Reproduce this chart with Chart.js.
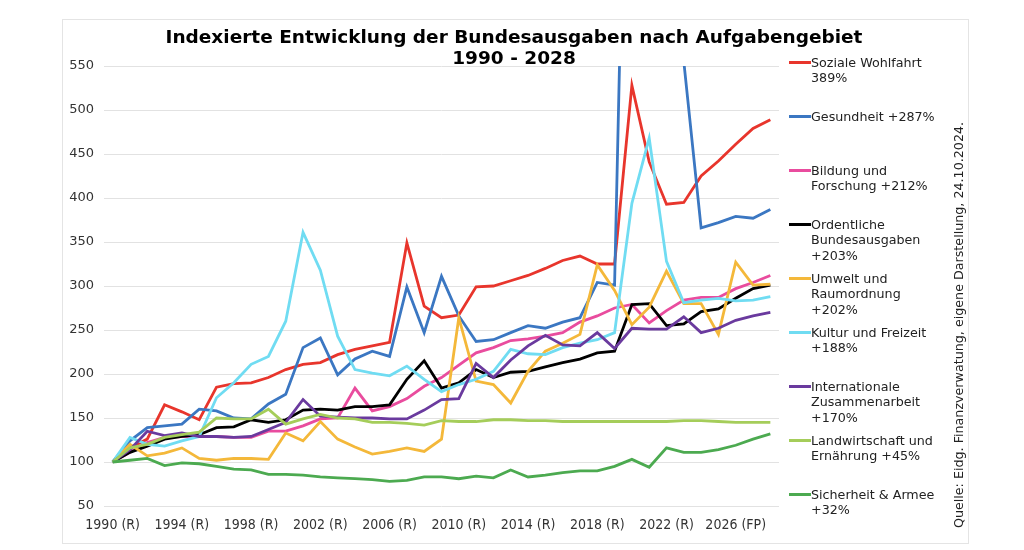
<!DOCTYPE html>
<html><head><meta charset="utf-8">
<script src="https://cdn.jsdelivr.net/npm/chart.js@4"></script>
<style>
html,body{margin:0;padding:0;background:#fff;}
body{width:1024px;height:550px;position:relative;overflow:hidden;font-family:'DejaVu Sans',Verdana,sans-serif;}
#frame{position:absolute;left:62px;top:19px;width:905px;height:523px;border:1px solid #e4e4e4;}
#title{position:absolute;left:0;width:1028px;top:26px;text-align:center;font-weight:bold;font-size:18.5px;line-height:21px;color:#000;}
.leg{position:absolute;left:789px;font-size:12.7px;line-height:15.5px;color:#222;white-space:nowrap;}
.sw{position:absolute;left:0;width:22px;height:3px;top:6.3px;}
.lt{margin-left:22px;}
#src{position:absolute;left:958px;top:325px;transform:translate(-50%,-50%) rotate(-90deg);font-size:12.7px;white-space:nowrap;color:#222;line-height:15px;}
#c{position:absolute;left:0;top:0;}
</style></head>
<body>
<div id="frame"></div>
<canvas id="c" width="1024" height="550"></canvas>
<div id="title">Indexierte Entwicklung der Bundesausgaben nach Aufgabengebiet<br>1990 - 2028</div>
<div id="legend"></div>
<div id="src">Quelle: Eidg. Finanzverwatung, eigene Darstellung, 24.10.2024.</div>
<script>
const years = [];
for (let y = 1990; y <= 2028; y++) years.push(y);
const categories = years.map(y => y + (y <= 2023 ? ' (R)' : (y === 2024 ? ' (V)' : ' (FP)')));

const sozialeWohlfahrt = [100,116,126,165,157,148,185,189,190,196, 205,211,213,222,228,232,236,349,277,264, 267,299,300,306,312,320,329,334,325,325, 528,441,393,395,425,442,461,479,489];
const gesundheit = [100,124,139,141,143,160,158,150,149,166, 177,230,241,199,217,226,220,299,247,311, 266,237,239,247,255,252,259,264,304,301, 1180,1400,1100,555,366,372,379,377,387];
const bildung = [100,111,122,128,129,129,129,128,128,135, 135,141,149,150,184,158,163,172,186,196, 210,224,230,238,240,243,247,259,266,275, 279,258,272,284,287,287,297,304,312];
const ordentliche = [100,111,118,126,129,131,139,140,148,145, 148,159,160,159,163,163,165,194,215,184, 190,205,196,202,203,208,213,217,224,226, 279,280,255,257,271,274,286,297,301];
const umwelt = [100,120,107,110,116,104,102,104,104,103, 133,124,146,126,117,109,112,116,112,126, 264,192,188,167,203,226,235,245,324,295, 256,276,317,280,280,245,327,301,302];
const kultur = [100,128,120,118,124,129,173,190,211,220, 260,361,318,243,205,201,198,209,194,180, 188,194,203,228,223,222,230,235,239,247, 394,468,328,281,284,286,283,284,288];
const international = [100,114,135,130,133,129,129,128,129,137, 145,171,152,151,150,150,149,149,159,171, 172,212,196,216,232,244,233,232,247,229, 252,251,251,265,247,252,261,266,270];
const landwirtschaft = [100,116,120,128,131,134,150,149,149,160, 143,149,154,150,149,145,145,144,142,147, 146,146,148,148,147,147,146,146,146,146, 146,146,146,147,147,146,145,145,145];
const sicherheit = [100,102,104,96,99,98,95,92,91,86, 86,85,83,82,81,80,78,79,83,83, 81,84,82,91,83,85,88,90,90,95, 103,94,116,111,111,114,119,126,132];

const yTicks = [50,100,150,200,250,300,350,400,450,500,550];

const series = [
  {name:['Soziale Wohlfahrt','389%'], data:sozialeWohlfahrt, color:'#e8352c'},
  {name:['Gesundheit +287%'], data:gesundheit, color:'#3b77c2'},
  {name:['Bildung und','Forschung +212%'], data:bildung, color:'#e94c9e'},
  {name:['Ordentliche','Bundesausgaben','+203%'], data:ordentliche, color:'#000000'},
  {name:['Umwelt und','Raumordnung','+202%'], data:umwelt, color:'#f4b83a'},
  {name:['Kultur und Freizeit','+188%'], data:kultur, color:'#70dcf2'},
  {name:['Internationale','Zusammenarbeit','+170%'], data:international, color:'#6a3a9e'},
  {name:['Landwirtschaft und','Ernährung +45%'], data:landwirtschaft, color:'#a5cd5a'},
  {name:['Sicherheit & Armee','+32%'], data:sicherheit, color:'#4caa50'}
];

// HTML legend
const leg = document.getElementById('legend');
series.forEach((s, i) => {
  const d = document.createElement('div');
  d.className = 'leg';
  d.style.top = (62.7 + 54 * i - 7.75) + 'px';
  const sw = document.createElement('div');
  sw.className = 'sw'; sw.style.background = s.color;
  const t = document.createElement('div');
  t.className = 'lt'; t.innerHTML = s.name.map(x => x.replace('&','&amp;')).join('<br>');
  d.appendChild(sw); d.appendChild(t); leg.appendChild(d);
});

Chart.defaults.font.family = "'DejaVu Sans', Verdana, sans-serif";
new Chart(document.getElementById('c'), {
  type: 'line',
  data: {
    labels: categories,
    datasets: series.map((s, i) => ({
      label: s.name.join(' '),
      data: s.data,
      borderColor: s.color,
      backgroundColor: s.color,
      borderWidth: 2.8,
      pointRadius: 0,
      tension: 0,
      fill: false,
      order: -i
    }))
  },
  options: {
    responsive: false,
    animation: false,
    devicePixelRatio: 1,
    layout: {padding: {left: 62, right: 245, top: 66, bottom: 14}},
    plugins: {legend: {display: false}, title: {display: false}, tooltip: {enabled: false}},
    scales: {
      x: {
        offset: true,
        grid: {display: false},
        border: {display: false},
        ticks: {
          autoSkip: false, maxRotation: 0, minRotation: 0, padding: 3,
          color: '#333',
          font: {family: "'DejaVu Sans Condensed', 'Liberation Sans Narrow', 'Liberation Sans', sans-serif", size: 14},
          callback: (v, i) => (i % 4 === 0 ? categories[i] : '')
        },
        afterFit: s => { s.height = 30; }
      },
      y: {
        min: yTicks[0], max: yTicks[yTicks.length - 1],
        afterBuildTicks: s => { s.ticks = yTicks.map(v => ({value: v})); },
        grid: {color: '#e2e2e2', drawTicks: false, lineWidth: 1},
        border: {display: false},
        ticks: {padding: 10, color: '#333', font: {size: 13}},
        afterFit: s => { s.width = 42; }
      }
    }
  }
});
</script>
</body></html>
